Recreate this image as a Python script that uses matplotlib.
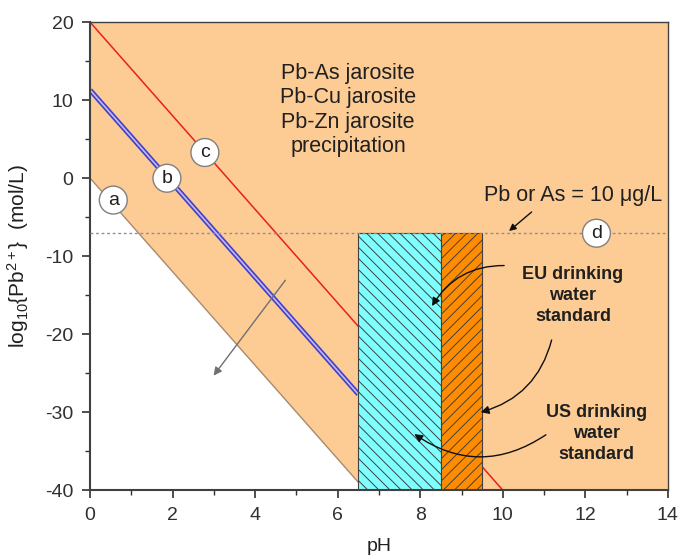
import matplotlib.pyplot as plt
import numpy as np
from matplotlib.patches import Rectangle

# solubility lines: log10{Pb2+} = intercept + slope * pH
slope = -6.0
intercept_a = 0.0
intercept_b = 11.3
intercept_c = 20.0
ph_end_b = 6.5

# limit line d and drinking water pH ranges
limit_d = -7.0
eu_ph = [6.5, 8.5]
us_ph = [8.5, 9.5]

precip_text = ['Pb-As jarosite', 'Pb-Cu jarosite', 'Pb-Zn jarosite', 'precipitation']

plt.rcParams['font.family'] = ['Liberation Sans', 'DejaVu Sans']
plt.rcParams['mathtext.fontset'] = 'custom'
plt.rcParams['mathtext.rm'] = 'Liberation Sans'
plt.rcParams['mathtext.it'] = 'Liberation Sans:italic'
plt.rcParams['axes.unicode_minus'] = False
plt.rcParams['hatch.linewidth'] = 0.7

fig = plt.figure(figsize=(6.78, 5.57), dpi=100)
ax = fig.add_axes([0.133, 0.120, 0.852, 0.840])
ax.set_xlim(0, 14)
ax.set_ylim(-40, 20)

orange_bg = '#FDCB94'

# region above line a
x_a0 = (-40 - intercept_a) / slope
poly_x = [0, x_a0, 14, 14, 0]
poly_y = [intercept_a, -40, -40, 20, 20]
ax.fill(poly_x, poly_y, color=orange_bg, lw=0, zorder=0)

xa = np.array([0, x_a0])
ax.plot(xa, intercept_a + slope * xa, color='#A88A70', lw=1.0, zorder=1)

xb = np.array([0, ph_end_b])
ax.plot(xb, intercept_b + slope * xb, color='#4040C8', lw=3.6, zorder=1, solid_capstyle='butt')
ax.plot(xb, intercept_b + slope * xb, color='#C8B8F0', lw=1.2, zorder=1.1, solid_capstyle='butt')

xc = np.array([0, (-40 - intercept_c) / slope])
ax.plot(xc, intercept_c + slope * xc, color='#E82020', lw=1.1, zorder=1)

ax.add_patch(Rectangle((eu_ph[0], -40), eu_ph[1] - eu_ph[0], limit_d + 40,
                       facecolor='#80FFFF', edgecolor='#404040', hatch='\\\\\\', lw=0.8, zorder=2))
ax.add_patch(Rectangle((us_ph[0], -40), us_ph[1] - us_ph[0], limit_d + 40,
                       facecolor='#FF8C00', edgecolor='#404040', hatch='///', lw=0.8, zorder=2))

ax.axhline(limit_d, color='#909090', ls=(0, (2, 2)), lw=1.0, zorder=3)

# text labels
for i, t in enumerate(precip_text):
    ax.text(6.25, 13.4 - i * 3.1, t, ha='center', va='center', fontsize=15.5, color='#202020')

ax.text(11.7, -2.2, 'Pb or As = 10 μg/L', ha='center', va='center', fontsize=15.5, color='#202020')
ax.annotate('', xy=(10.1, -7.0), xytext=(10.75, -4.1),
            arrowprops=dict(arrowstyle='-|>', color='#101010', lw=1.0, mutation_scale=10), zorder=4)

ax.text(11.7, -15.0, 'EU drinking\nwater\nstandard', ha='center', va='center', fontsize=13,
        fontweight='bold', color='#202020', linespacing=1.3)
ax.text(12.27, -32.7, 'US drinking\nwater\nstandard', ha='center', va='center', fontsize=13,
        fontweight='bold', color='#202020', linespacing=1.3)

ax.annotate('', xy=(8.25, -16.7), xytext=(10.1, -11.2),
            arrowprops=dict(arrowstyle='-|>', color='#101010', lw=1.0, mutation_scale=12,
                            connectionstyle='arc3,rad=0.3'), zorder=4)
ax.annotate('', xy=(9.4, -30.1), xytext=(11.2, -20.4),
            arrowprops=dict(arrowstyle='-|>', color='#101010', lw=1.0, mutation_scale=12,
                            connectionstyle='arc3,rad=-0.3'), zorder=4)
ax.annotate('', xy=(7.8, -32.6), xytext=(11.1, -32.7),
            arrowprops=dict(arrowstyle='-|>', color='#101010', lw=1.0, mutation_scale=12,
                            connectionstyle='arc3,rad=-0.35'), zorder=4)

# perpendicular arrow
ax.annotate('', xy=(2.95, -25.6), xytext=(4.77, -12.8),
            arrowprops=dict(arrowstyle='-|>', color='#707070', lw=1.0, mutation_scale=12), zorder=4)

circle = dict(boxstyle='circle,pad=0.28', facecolor='white', edgecolor='#808080', lw=1.0)
for lab, x, y in [('a', 0.56, -2.8), ('b', 1.86, 0.0), ('c', 2.78, 3.3), ('d', 12.27, -7.05)]:
    ax.text(x, y, lab, ha='center', va='center', fontsize=14, color='#202020', bbox=circle, zorder=5)

ax.set_xticks(np.arange(0, 15, 2))
ax.set_xticks(np.arange(0, 15, 1), minor=True)
ax.set_yticks(np.arange(-40, 21, 10))
ax.set_yticks(np.arange(-40, 21, 5), minor=True)
ax.tick_params(which='major', direction='out', length=6, width=1.2, labelsize=14,
               colors='#303030', pad=6)
ax.tick_params(which='minor', direction='out', length=3.5, width=1.0, colors='#303030')
for s in ['left', 'bottom']:
    ax.spines[s].set_linewidth(1.5)
    ax.spines[s].set_color('#404040')
for s in ['top', 'right']:
    ax.spines[s].set_linewidth(1.0)
    ax.spines[s].set_color('#404040')

ax.set_xlabel('pH', fontsize=14, labelpad=10, color='#202020')
ax.set_ylabel('log$_{10}${Pb$^{2+}$}  (mol/L)', fontsize=15, color='#202020', labelpad=10)

fig.savefig('out.png', dpi=100)
